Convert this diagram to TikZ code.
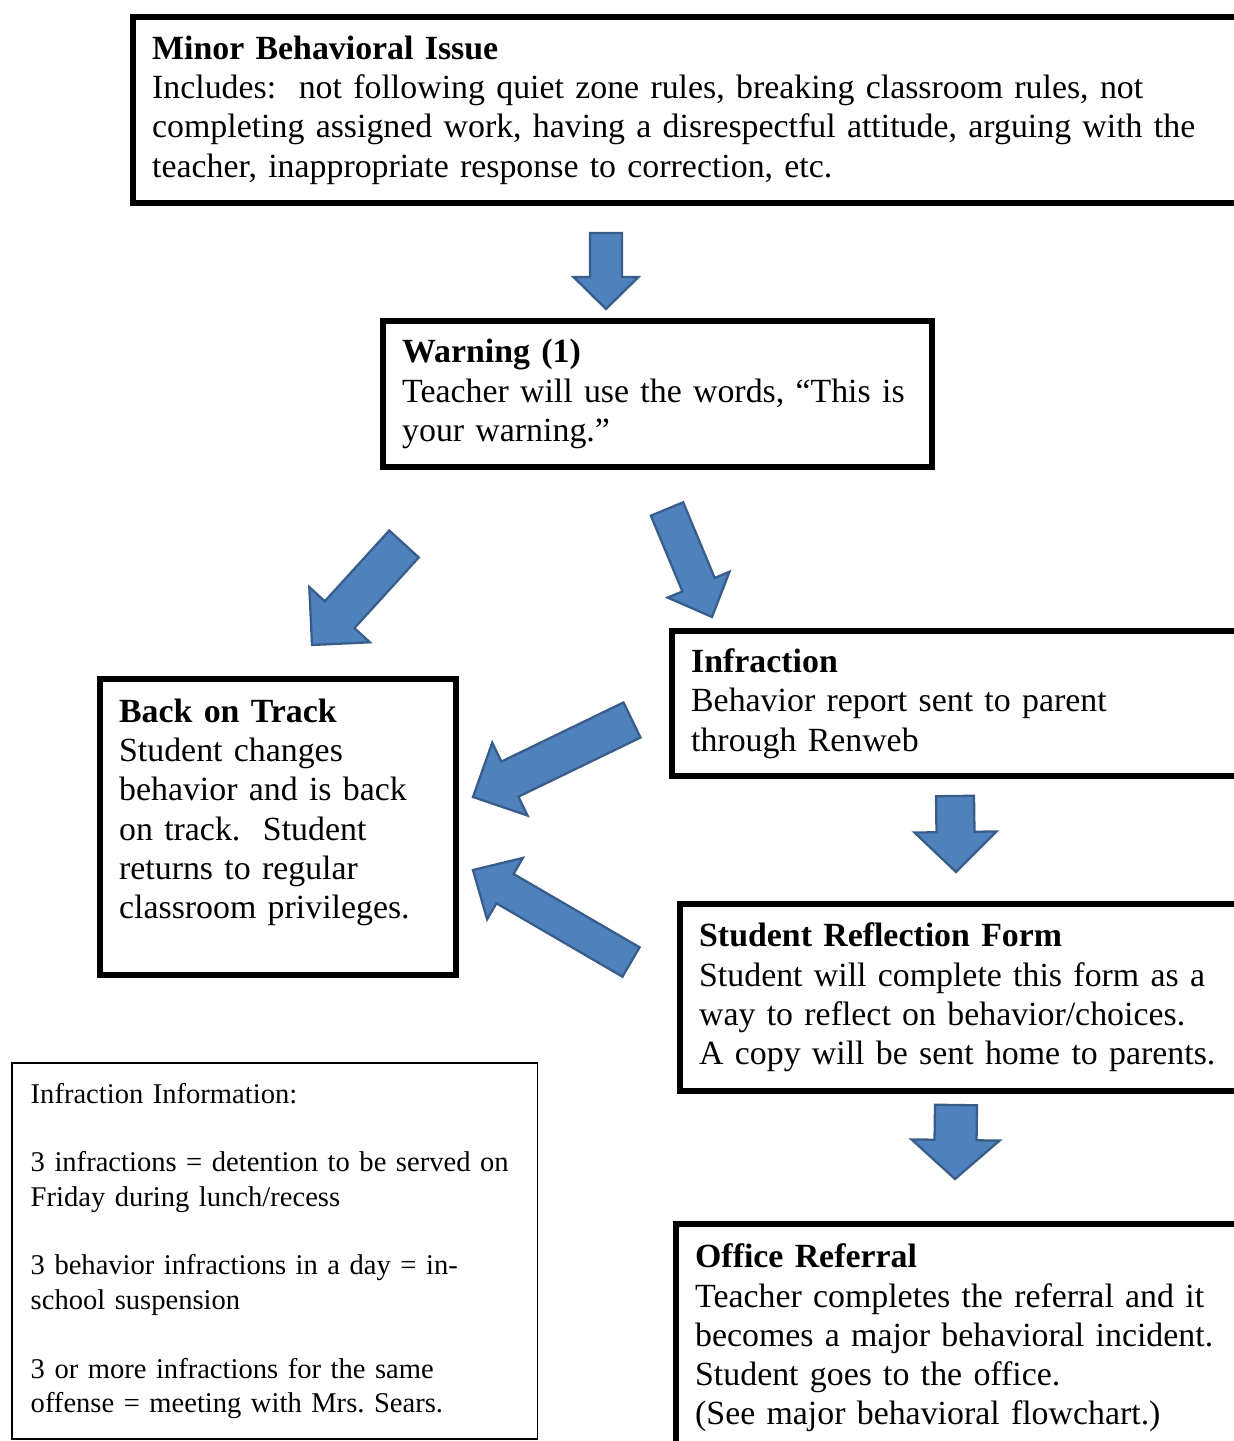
\documentclass[tikz,border=0pt]{standalone}
\usepackage{fontspec}
\setmainfont{Liberation Serif}
\usetikzlibrary{calc}
\definecolor{arrowblue}{RGB}{79,129,189}
\definecolor{arrowline}{RGB}{56,93,138}
\newcommand{\blockarrow}[5]{
  \coordinate (T) at (#1);
  \coordinate (P) at (#2);
  \coordinate (H) at ($(P)!{#5*0.35pt}!(T)$);
  \filldraw[fill=arrowblue, draw=arrowline, line width=0.8pt, line join=miter]
  ($(T)!{#3*0.175pt}!90:(P)$) --
  ($(H)!{#3*0.175pt}!-90:(T)$) --
  ($(H)!{#4*0.175pt}!-90:(T)$) --
  (P) --
  ($(H)!{#4*0.175pt}!90:(T)$) --
  ($(H)!{#3*0.175pt}!90:(T)$) --
  ($(T)!{#3*0.175pt}!-90:(P)$) -- cycle;
}
\frenchspacing

\begin{document}
\begin{tikzpicture}[x=0.35pt, y=-0.35pt]

\tikzset{ box/.style={draw, line width=2.1pt, anchor=north west, inner xsep=6.7pt,
    inner ysep=0pt, align=left, font={\fontsize{11.85pt}{13.75pt}\selectfont}},
  infobox/.style={draw, line width=0.6pt, anchor=north west, inner xsep=6.6pt,
    inner ysep=0pt, align=left, font={\fontsize{10pt}{12.05pt}\selectfont}}
}

\useasboundingbox (0,0) rectangle (1234,1441);
\clip (0,0) rectangle (1234,1441);

% Boxes
\node[box, text width=380pt, minimum height=65.1pt] (minor) at (130,14)
{\textbf{Minor Behavioral Issue}\\
  Includes:\ \ not following quiet zone rules, breaking classroom rules, not\\
  completing assigned work, having a disrespectful attitude, arguing with the\\
  teacher, inappropriate response to correction, etc.};

\node[box, text width=178.75pt, minimum height=51.1pt] (warning) at (380,318)
{\textbf{Warning (1)}\\
  Teacher will use the words, “This is\\
  your warning.”};

\node[box, text width=111.2pt, minimum height=103.6pt] (track) at (97,676)
{\textbf{Back on Track}\\
  Student changes\\
  behavior and is back\\
  on track.\ \ Student\\
  returns to regular\\
  classroom privileges.\rule[-12.8pt]{0pt}{12.8pt}};

\node[box, text width=200pt, minimum height=50.75pt] (infraction) at (669,628)
{\textbf{Infraction}\\
  Behavior report sent to parent\\
  through Renweb};

\node[box, text width=200pt, minimum height=65.45pt] (reflection) at (677,901)
{\textbf{Student Reflection Form}\\
  Student will complete this form as a\\
  way to reflect on behavior/choices.\\
  A copy will be sent home to parents.};

\node[box, text width=200pt, minimum height=79.8pt] (office) at (673,1221)
{\textbf{Office Referral}\\
  Teacher completes the referral and it\\
  becomes a major behavioral incident.\\
  Student goes to the office.\\
  (See major behavioral flowchart.)};

\node[infobox, text width=170.8pt, minimum height=131.6pt] (info) at (11,1062)
{Infraction Information:\\[12pt]
  3 infractions = detention to be served on\\
  Friday during lunch/recess\\[12pt]
  3 behavior infractions in a day = in-\\
  school suspension\\[12pt]
  3 or more infractions for the same\\
  offense = meeting with Mrs. Sears.};

% Arrows
\blockarrow{606,233}{606,309}{32}{65}{32}
\blockarrow{404,544}{312,645}{40}{82}{41}
\blockarrow{667,509}{712,617}{35}{67}{35}
\blockarrow{632,720}{473,797}{39}{81}{41}
\blockarrow{631,962}{473,870}{34}{71}{37}
\blockarrow{955,796}{956,872}{38}{82}{40}
\blockarrow{956,1105}{955,1179}{42}{88}{39}

\end{tikzpicture}
\end{document}
